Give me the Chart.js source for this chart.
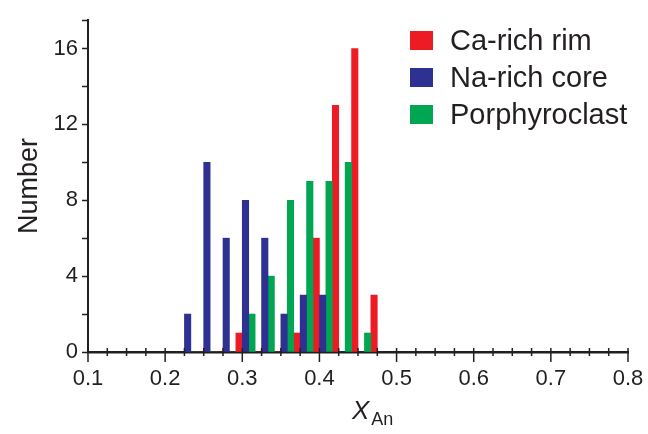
<!DOCTYPE html>
<html>
<head>
<meta charset="utf-8">
<script src="https://cdn.jsdelivr.net/npm/chart.js@4"></script>
<style>
  body { margin: 0; background: #fff; }
  #wrap { position: relative; width: 648px; height: 434px; }
  #legend {
    position: absolute; left: 410px; top: 22px;
    font-family: "Liberation Sans", Arial, sans-serif; font-size: 29px; color: #231f20;
  }
  #legend .row { display: flex; align-items: center; height: 37px; }
  #legend .box { width: 23px; height: 19px; margin-right: 17px; }
</style>
</head>
<body>
<div id="wrap">
  <canvas id="mychart"></canvas>
  <div id="legend"></div>
</div>
<script>
// bin centres (XAn), bin width 0.025
const binCenters = [0.2375, 0.2625, 0.2875, 0.3125, 0.3375, 0.3625, 0.3875, 0.4125, 0.4375, 0.4625];
const naCore = [2, 10, 6, 8, 6, 2, 3, 3, 0, 0];
const porphyroclast = [0, 0, 0, 2, 4, 8, 9, 9, 10, 1];
const caRim = [0, 0, 1, 0, 0, 1, 6, 13, 16, 3];

const legendNames = ["Ca-rich rim", "Na-rich core", "Porphyroclast"];
const legendColors = ["#ed1c24", "#2e3192", "#00a651"];

const ink = "#231f20";
const font = "'Liberation Sans', Arial, sans-serif";

function pts(vals) {
  return vals.map((v, i) => ({ x: binCenters[i], y: v }));
}

// legend (html, sits over the plot)
const lg = document.getElementById("legend");
for (let i = 0; i < legendNames.length; i++) {
  lg.innerHTML += `<div class="row"><div class="box" style="background:${legendColors[i]}"></div>${legendNames[i]}</div>`;
}

const xTicks = {
  id: "xTicks",
  afterDatasetsDraw(chart) {
    const sc = chart.scales.x;
    const ctx = chart.ctx;
    const y0 = chart.chartArea.bottom;
    ctx.save();
    ctx.strokeStyle = ink;
    ctx.lineWidth = 1.5;
    sc.ticks.forEach((t) => {
      const px = sc.getPixelForValue(t.value);
      const major = Math.abs(t.value * 10 - Math.round(t.value * 10)) < 1e-6;
      ctx.beginPath();
      ctx.moveTo(px, y0 - 4);
      ctx.lineTo(px, y0 + (major ? 10 : 4));
      ctx.stroke();
    });
    // x axis title with subscript
    ctx.fillStyle = ink;
    ctx.textBaseline = "alphabetic";
    ctx.font = "italic 26px " + font;
    const cx = (chart.chartArea.left + chart.chartArea.right) / 2;
    const w = ctx.measureText("X").width;
    ctx.fillText("X", cx - 6, 419);
    ctx.font = "18px " + font;
    ctx.fillText("An", cx - 4 + w, 425);
    ctx.restore();
  },
};

new Chart(document.getElementById("mychart"), {
  type: "bar",
  data: {
    datasets: [
      { label: legendNames[1], data: pts(naCore), backgroundColor: legendColors[1] },
      { label: legendNames[2], data: pts(porphyroclast), backgroundColor: legendColors[2] },
      { label: legendNames[0], data: pts(caRim), backgroundColor: legendColors[0] },
    ],
  },
  options: {
    responsive: true,
    maintainAspectRatio: false,
    animation: false,
    categoryPercentage: 1,
    barPercentage: 1,
    layout: { padding: { left: 0, top: 20, right: 20, bottom: 0 } },
    plugins: { legend: { display: false }, tooltip: { enabled: false } },
    scales: {
      x: {
        type: "linear",
        min: 0.1,
        max: 0.8,
        offset: false,
        afterFit: (s) => { s.height = 82; },
        grid: {
          offset: false,
          drawOnChartArea: false,
          drawTicks: true,
          tickLength: 10,
          tickColor: "rgba(0,0,0,0)",
        },
        border: { display: true, color: ink, width: 2.5 },
        ticks: {
          stepSize: 0.025,
          autoSkip: false,
          maxRotation: 0,
          padding: 4,
          color: ink,
          font: { family: font, size: 22 },
          callback: (v) => (Math.abs(v * 10 - Math.round(v * 10)) < 1e-6 ? v.toFixed(1) : ""),
        },
      },
      y: {
        min: 0,
        max: 17.5,
        afterFit: (s) => { s.width = 88; },
        grid: {
          drawOnChartArea: false,
          drawTicks: true,
          tickLength: 6,
          tickColor: ink,
          tickWidth: 1.5,
        },
        border: { display: true, color: ink, width: 2 },
        ticks: {
          stepSize: 2,
          padding: 4,
          color: ink,
          font: { family: font, size: 22 },
          callback: (v) => (v % 4 === 0 ? v : ""),
        },
        title: {
          display: true,
          text: "Number",
          color: ink,
          font: { family: font, size: 27 },
          padding: { top: 13, bottom: 0 },
        },
      },
    },
  },
  plugins: [xTicks],
});
</script>
</body>
</html>
